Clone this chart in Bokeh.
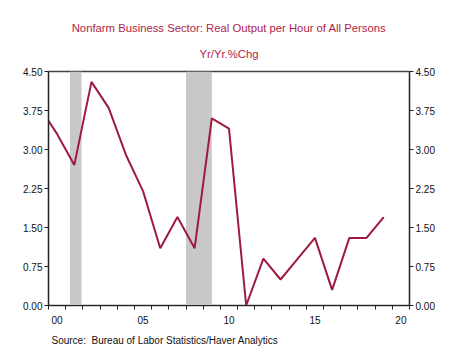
from bokeh.plotting import figure
from bokeh.models import (Range1d, LinearAxis, FixedTicker, NumeralTickFormatter,
                          Title, ColumnDataSource)
from bokeh.embed import file_html
from bokeh.resources import INLINE

# ---- data ----
years = [1999, 2000, 2001, 2002, 2003, 2004, 2005, 2006, 2007, 2008, 2009,
         2010, 2011, 2012, 2013, 2014, 2015, 2016, 2017, 2018, 2019]
productivity = [3.8, 3.3, 2.7, 4.3, 3.8, 2.9, 2.2, 1.1, 1.7, 1.1, 3.6,
                3.4, 0.0, 0.9, 0.5, 0.9, 1.3, 0.3, 1.3, 1.3, 1.7]
recession_start = [2001.25, 2008.0]
recession_end = [2001.92, 2009.5]
y_ticks = [0.0, 0.75, 1.5, 2.25, 3.0, 3.75, 4.5]
x_label_years = [2000, 2005, 2010, 2015, 2020]
x_label_text = ["00", "05", "10", "15", "20"]

title_text = "Nonfarm Business Sector: Real Output per Hour of All Persons"
subtitle_text = "Yr/Yr.%Chg"
source_text = "Source:\u00a0 Bureau of Labor Statistics/Haver Analytics"

FONT = "Liberation Sans"
LINE_COLOR = "#9e1b3f"
TITLE_COLOR = "#b01e4a"
AXIS_COLOR = "#222222"

p = figure(width=458, height=352, output_backend="svg", toolbar_location=None,
           x_range=Range1d(2000, 2021), y_range=Range1d(0, 4.5),
           min_border_left=48, min_border_right=49, min_border_top=71,
           min_border_bottom=47, title=None)
p.grid.visible = False
p.outline_line_color = "#444444"
p.outline_line_width = 1.6
p.background_fill_color = "white"
p.border_fill_color = "white"

# recession shading
rsrc = ColumnDataSource(dict(left=recession_start, right=recession_end,
                             bottom=[0, 0], top=[4.5, 4.5]))
p.quad(left="left", right="right", bottom="bottom", top="top", source=rsrc,
       fill_color="#c8c8c8", line_color=None)

# line (annual values plotted at mid-year)
src = ColumnDataSource(dict(x=[y + 0.5 for y in years], y=productivity))
p.line("x", "y", source=src, line_color=LINE_COLOR, line_width=2)

# x axis
xa = p.xaxis[0]
xa.ticker = FixedTicker(ticks=[y + 0.5 for y in x_label_years],
                        minor_ticks=list(range(2000, 2022)))
xa.major_label_overrides = {y + 0.5: t for y, t in zip(x_label_years, x_label_text)}
xa.major_tick_out = 0
xa.major_tick_in = 0
xa.minor_tick_out = 4
xa.minor_tick_in = 0
xa.major_label_standoff = 6
xa.axis_line_color = AXIS_COLOR
xa.minor_tick_line_color = AXIS_COLOR
xa.major_label_text_font = FONT
xa.major_label_text_font_size = "10px"
xa.major_label_text_color = "#111111"

# y axes
ya = p.yaxis[0]
yr = LinearAxis()
p.add_layout(yr, "right")
for ax in [ya, yr]:
    ax.ticker = FixedTicker(ticks=y_ticks)
    ax.formatter = NumeralTickFormatter(format="0.00")
    ax.major_tick_out = 4
    ax.major_tick_in = 0
    ax.minor_tick_line_color = None
    ax.major_label_standoff = 2
    ax.axis_line_color = AXIS_COLOR
    ax.major_tick_line_color = AXIS_COLOR
    ax.major_label_text_font = FONT
    ax.major_label_text_font_size = "10px"
    ax.major_label_text_color = "#111111"

# subtitle as the label of an empty top axis, title above it
top_ax = LinearAxis(ticker=FixedTicker(ticks=[]), axis_line_color=None,
                    major_tick_line_color=None, minor_tick_line_color=None,
                    major_label_text_font_size="0px",
                    axis_label=subtitle_text, axis_label_text_font=FONT,
                    axis_label_text_font_size="11.3px",
                    axis_label_text_font_style="normal",
                    axis_label_text_color=TITLE_COLOR,
                    axis_label_standoff=12)
p.add_layout(top_ax, "above")

head = Title(text=title_text, align="center", text_font=FONT,
             text_font_size="11.3px", text_color=TITLE_COLOR,
             text_font_style="normal", standoff=21, offset=0)
p.add_layout(head, "above")

# source note below the x axis
src_title = Title(text=source_text, align="left", text_font=FONT,
                  text_font_size="10px", text_color="#111111",
                  text_font_style="normal", standoff=13, offset=3)
p.add_layout(src_title, "below")

open("out.html", "w").write(file_html(p, INLINE))
